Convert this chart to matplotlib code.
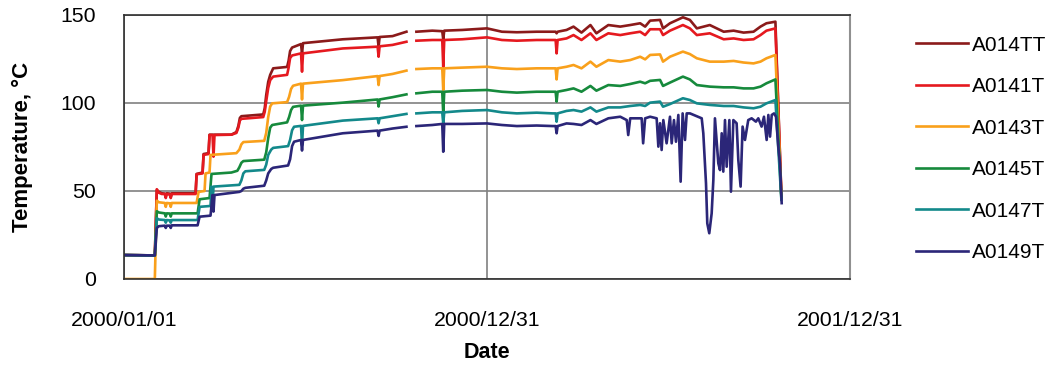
import numpy as np
import matplotlib
matplotlib.use("Agg")
import matplotlib.pyplot as plt
import matplotlib.dates as mdates

plt.rcParams['font.family'] = ['Liberation Sans', 'DejaVu Sans']

# --- DATA (days since 2000/01/01, temperature in degC) ---
START = np.datetime64('2000-01-01')
GAP_DAY = 289  # logger gap, no readings

labels = ['A014TT', 'A0141T', 'A0143T', 'A0145T', 'A0147T', 'A0149T']
colors = ['#8b1a1a', '#e5191f', '#f9a01b', '#168a3c', '#13898b', '#2b2678']

# first year (before the gap)
tt_days = [0, 31, 33, 35, 38, 41, 42, 43, 46, 47, 48, 72, 73, 79, 80, 85, 86, 108, 113, 115, 116.5, 118,
           140, 141.5, 143, 145, 147, 150, 164, 165.5, 167, 169, 178, 179, 180, 220, 255, 256, 257, 270, 284]
tt_vals = [13.6, 13.4, 50.5, 49.5, 48.7, 48.5, 47.0, 48.7, 48.5, 46.5, 48.7, 48.7, 59.7, 60.5, 71.0, 71.5, 82.0, 82.0, 83.5, 87.0, 91.5, 92.5,
           93.5, 97.0, 104.5, 112.0, 116.0, 119.7, 120.5, 124.0, 129.5, 131.5, 133.5, 128.0, 134.0, 136.2, 137.3, 132.0, 137.5, 138.0, 140.5]

t1_days = [0, 31, 33, 35, 38, 41, 42, 43, 46, 47, 48, 72, 73, 79, 80, 85, 86, 89, 90, 91, 108, 113, 115, 116.5, 118,
           140, 141.5, 143, 145, 147, 150, 164, 165.5, 167, 169, 178, 179, 180, 220, 255, 256, 257, 270, 284]
t1_vals = [13.6, 13.4, 51.0, 49.0, 48.3, 48.3, 46.0, 48.3, 48.0, 46.0, 48.3, 48.3, 59.5, 60.0, 70.5, 71.0, 81.8, 81.8, 69.5, 81.8, 82.0, 83.0, 86.0, 90.0, 91.0,
           92.0, 95.0, 101.0, 108.5, 113.0, 115.0, 116.0, 120.0, 125.5, 127.0, 128.2, 117.8, 128.2, 131.0, 132.0, 126.3, 132.2, 133.0, 134.8]

t3_days = [0, 31, 33, 35, 41, 42, 43, 46, 47, 48, 73, 75, 81, 82, 86, 87, 113, 116, 118, 120,
           141, 143, 145, 147, 149, 164, 166, 168, 170, 178, 179, 180, 220, 255, 256, 257, 270, 284]
t3_vals = [0.0, 0.0, 44.5, 43.6, 43.2, 41.0, 43.2, 43.0, 41.0, 43.2, 43.2, 49.5, 50.0, 60.0, 60.5, 70.5, 71.5, 73.5, 76.5, 77.8,
           78.5, 83.0, 92.0, 98.0, 99.8, 100.5, 103.5, 108.0, 109.8, 111.0, 102.0, 111.0, 113.0, 115.3, 110.2, 115.3, 116.5, 118.4]

t5_days = [0, 31, 33, 35, 41, 42, 43, 46, 47, 48, 74, 76, 86, 88, 108, 114, 116, 118, 120,
           141, 143, 145, 147, 149, 164, 166, 168, 170, 178, 179, 180, 220, 255, 256, 257, 270, 284]
t5_vals = [13.6, 13.4, 38.5, 37.8, 37.3, 35.5, 37.3, 37.2, 35.5, 37.3, 37.3, 45.3, 46.0, 59.7, 60.5, 61.5, 63.5, 66.0, 67.0,
           67.8, 72.0, 80.0, 86.0, 87.5, 89.0, 92.0, 96.0, 97.8, 98.5, 90.3, 98.5, 100.2, 102.0, 98.0, 102.0, 103.3, 104.9]

t7_days = [0, 31, 33, 35, 41, 42, 43, 46, 47, 48, 74, 76, 87, 88, 89, 90, 116, 118, 120, 122,
           141, 143, 145, 148, 150, 165, 167, 169, 171, 178, 179, 180, 220, 255, 256, 257, 270, 284]
t7_vals = [13.6, 13.4, 34.5, 33.8, 33.5, 32.0, 33.5, 33.3, 32.0, 33.5, 33.5, 41.0, 41.5, 52.5, 42.0, 52.5, 53.5, 56.0, 60.0, 61.2,
           62.0, 65.0, 70.5, 73.5, 74.5, 75.5, 79.0, 84.5, 86.5, 87.0, 76.0, 87.0, 90.0, 91.3, 88.5, 91.3, 92.5, 93.8]

t9_days = [0, 31, 33, 35, 41, 42, 43, 46, 47, 48, 74, 76, 87, 89, 90, 91, 116, 118, 120, 122,
           141, 143, 145, 148, 150, 165, 167, 169, 171, 178, 179, 180, 220, 255, 256, 257, 270, 284]
t9_vals = [13.6, 13.4, 29.0, 30.0, 30.3, 29.0, 30.3, 30.3, 29.0, 30.5, 30.5, 35.4, 36.0, 47.7, 38.3, 47.7, 49.5, 50.0, 51.3, 51.8,
           53.0, 56.0, 60.0, 62.5, 63.2, 64.5, 68.0, 75.5, 78.0, 79.0, 73.0, 79.0, 82.8, 84.3, 81.3, 84.3, 85.5, 86.5]

# second year (after the gap), shared days for the upper five sensors
r_days = [294, 310, 320, 321, 322, 340, 365, 380, 395, 415, 431, 434, 435, 436, 445, 452, 460, 469, 475, 487,
          499, 509, 519, 524, 529, 539, 542, 549, 562, 569, 576, 589, 603, 613, 623, 633, 640, 646, 655, 661]

tt_r = [140.5, 141.1, 140.8, 136.2, 141.1, 141.5, 142.4, 140.5, 140.2, 140.5, 140.5, 140.5, 139.6, 140.5, 141.5, 143.4, 140.0, 144.3, 139.6, 144.3,
        143.4, 144.3, 145.3, 143.4, 146.8, 147.2, 142.4, 145.3, 148.7, 147.2, 142.4, 144.3, 140.5, 141.1, 140.0, 140.5, 143.4, 145.3, 146.2, 47.0]
t1_r = [135.4, 135.8, 135.8, 120.6, 135.8, 136.2, 137.3, 135.8, 135.4, 135.8, 135.8, 135.8, 128.2, 135.8, 136.7, 138.6, 135.8, 139.6, 135.8, 139.6,
        138.6, 139.6, 140.5, 138.6, 141.9, 141.9, 138.6, 141.1, 144.3, 142.4, 138.6, 139.6, 136.2, 136.7, 135.8, 136.2, 138.6, 141.1, 142.4, 48.0]
t3_r = [119.3, 119.7, 119.7, 107.4, 119.7, 120.1, 120.6, 119.7, 119.3, 119.7, 119.7, 119.7, 113.4, 119.7, 120.6, 121.6, 119.7, 123.5, 120.6, 124.4,
        123.5, 124.4, 126.3, 124.8, 127.3, 127.6, 123.5, 126.3, 129.2, 127.8, 125.4, 123.5, 123.5, 123.9, 123.0, 122.5, 123.5, 125.4, 127.3, 47.0]
t5_r = [105.5, 106.4, 106.4, 94.1, 106.4, 107.0, 107.4, 106.4, 105.9, 106.4, 106.4, 106.4, 100.8, 106.4, 107.4, 108.3, 106.4, 109.7, 107.0, 110.2,
        109.7, 110.8, 112.1, 111.2, 112.6, 113.1, 109.7, 111.6, 115.0, 113.4, 110.2, 109.3, 108.9, 108.9, 108.3, 108.3, 109.3, 111.2, 113.4, 46.0]
t7_r = [94.1, 94.7, 94.7, 88.4, 94.7, 95.5, 96.0, 94.7, 94.1, 94.5, 94.1, 94.1, 89.4, 94.1, 95.5, 96.0, 95.1, 97.5, 95.1, 97.5,
        97.5, 98.3, 98.9, 98.3, 100.2, 100.8, 97.9, 99.4, 102.7, 101.7, 99.8, 98.9, 98.3, 98.3, 97.5, 97.0, 97.9, 99.8, 101.7, 45.0]

# A0149T after the gap (erratic readings from mid 2001)
t9_r_days = [294, 310, 320, 321, 322, 340, 365, 380, 395, 415, 431, 434, 435, 436, 445, 452, 460, 469, 475, 487, 499,
             505.5, 507, 509, 520.5, 522, 524, 529, 535.6, 537.3, 539, 540.6, 542.3, 545.6, 549, 550.7, 553, 555, 557.4,
             559.7, 561.7, 564.1, 565.8, 569.1, 580.9, 582.5, 585.2, 586.5, 588.5, 590.9, 592.6, 594.2, 597.6, 599.3,
             601, 602.6, 604.3, 606, 608.7, 610.3, 612.7, 616, 617.7, 620, 622, 624.4, 627.7, 631.1, 635.4, 637.8,
             641.1, 643.5, 646.2, 647.9, 649.6, 651.3, 653.6, 655.6, 657.9, 659.6, 661.3]
t9_r = [86.9, 87.5, 88.1, 72.3, 88.1, 88.1, 88.4, 87.5, 86.9, 87.2, 86.9, 86.9, 82.8, 86.9, 88.4, 88.1, 87.5, 90.3, 88.1, 91.3, 92.2,
        90.3, 81.8, 91.3, 91.3, 77.1, 91.3, 92.2, 91.3, 75.2, 88.5, 73.3, 90.3, 77.1, 92.2, 77.1, 90.3, 78.0, 93.2,
        55.3, 94.1, 79.0, 94.1, 94.1, 91.3, 82.8, 54.4, 31.6, 26.0, 37.3, 56.3, 91.3, 65.7, 61.9,
        82.8, 61.0, 90.3, 63.8, 90.3, 49.6, 90.3, 88.5, 67.6, 52.5, 86.6, 79.0, 90.3, 91.3, 89.4, 91.3,
        86.6, 92.2, 79.0, 93.2, 80.9, 93.2, 94.1, 92.2, 75.2, 65.7, 43.1]

series = [
    (tt_days, tt_vals, r_days, tt_r),
    (t1_days, t1_vals, r_days, t1_r),
    (t3_days, t3_vals, r_days, t3_r),
    (t5_days, t5_vals, r_days, t5_r),
    (t7_days, t7_vals, r_days, t7_r),
    (t9_days, t9_vals, t9_r_days, t9_r),
]

# --- PLOT ---
fig = plt.figure(figsize=(10.52, 3.67), dpi=100)
ax = fig.add_axes([124 / 1052, 1 - 279 / 367, 726 / 1052, 264 / 367])

for (d1, v1, d2, v2), lab, col in zip(series, labels, colors):
    days = np.array(d1 + [GAP_DAY] + d2, dtype=float)
    vals = np.array(v1 + [np.nan] + v2, dtype=float)
    dates = START + (days * 24 * 60).astype('timedelta64[m]')
    ax.plot(dates, vals, color=col, lw=1.9, label=lab, solid_joinstyle='round')

ax.set_ylim(0, 150)
ax.set_yticks([0, 50, 100, 150])
ax.set_xlim(np.datetime64('2000-01-01'), np.datetime64('2001-12-31'))
ax.set_xticks([np.datetime64('2000-01-01'), np.datetime64('2000-12-31'), np.datetime64('2001-12-31')])
ax.xaxis.set_major_formatter(mdates.DateFormatter('%Y/%m/%d'))

ax.grid(True, color='#808080', lw=1.2)
ax.set_axisbelow(True)
ax.tick_params(axis='both', length=0, labelsize=15.3, colors='black')
ax.tick_params(axis='x', pad=23)
ax.tick_params(axis='y', pad=20)
for side in ['left', 'bottom', 'top']:
    ax.spines[side].set_color('#303030')
    ax.spines[side].set_linewidth(1.2)
ax.spines['right'].set_color('#909090')
ax.spines['right'].set_linewidth(1.5)

ax.set_xlabel('Date', fontsize=15.5, fontweight='bold', labelpad=9)
ax.set_ylabel('Temperature, \u00b0C', fontsize=16, fontweight='bold', labelpad=20)

ax.legend(loc='upper left', bbox_to_anchor=(897 / 1052, 1 - 17 / 367), bbox_transform=fig.transFigure,
          frameon=False, fontsize=15, handlelength=2.5, handletextpad=0.2, labelspacing=1.08)

fig.savefig('out.png', dpi=100)
